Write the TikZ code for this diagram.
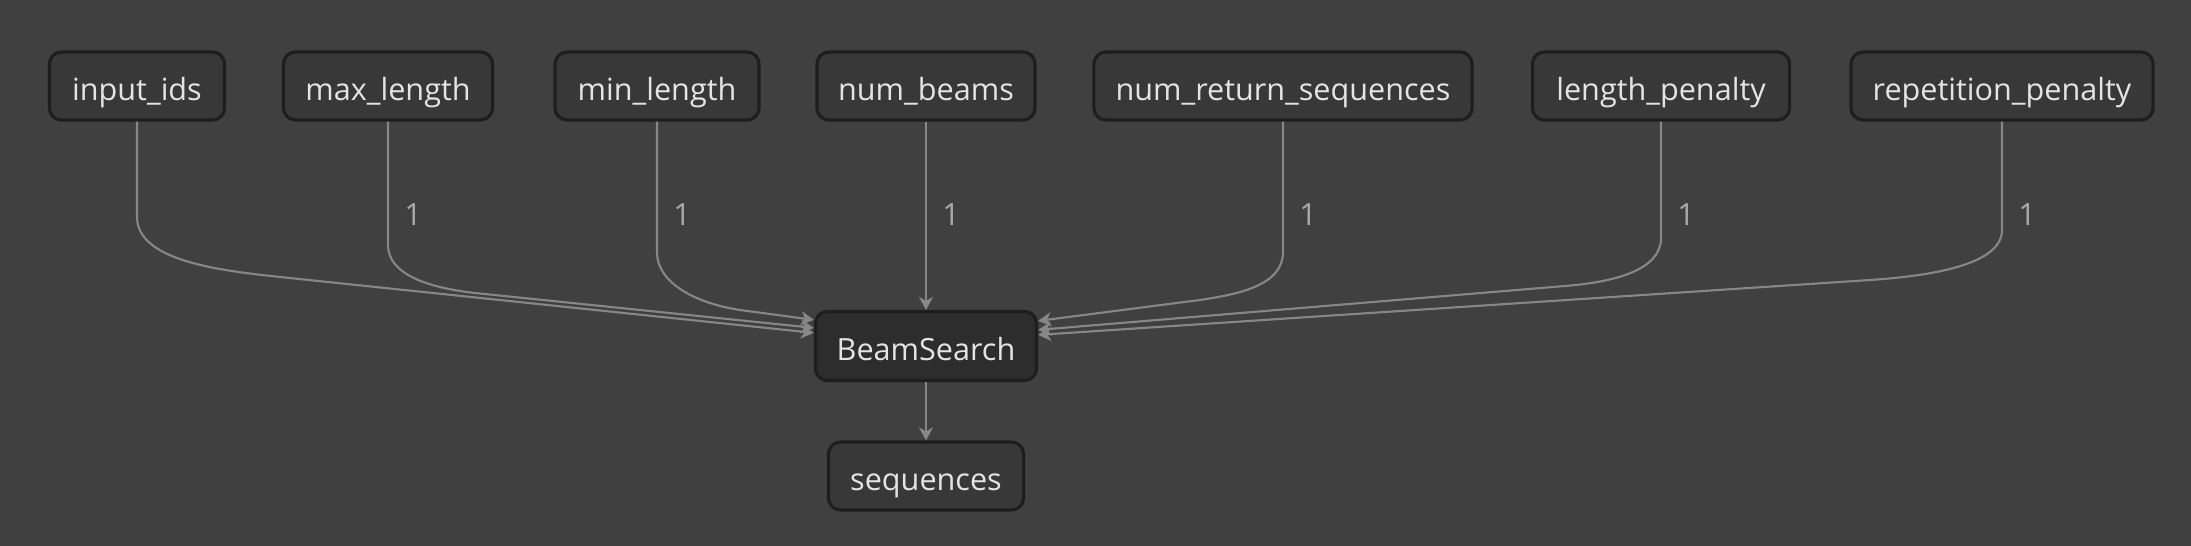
\documentclass[tikz,border=0pt]{standalone}
\usepackage{fontspec}
\setmainfont{Open Sans}
\usetikzlibrary{arrows.meta, calc}
\definecolor{bgcol}{RGB}{64,64,64}
\definecolor{boxcol}{RGB}{56,56,56}
\definecolor{opcol}{RGB}{45,45,45}
\definecolor{rimcol}{RGB}{30,30,30}
\definecolor{txtcol}{RGB}{228,228,228}
\definecolor{edgecol}{RGB}{135,135,135}
\definecolor{lblcol}{RGB}{170,170,170}
\begin{document}
\begin{tikzpicture}[
  x=0.01cm, y=0.01cm,
  io/.style={rectangle, draw=rimcol, line width=0.9pt, rounded corners=0.12cm, fill=boxcol, text=txtcol, minimum height=0.68cm, inner xsep=0pt, text height=0.3cm, text depth=0.01cm, font=\fontsize{8.7}{10}\selectfont},
  op/.style={io, fill=opcol, minimum height=0.69cm},
  edge/.style={draw=edgecol, line width=0.6pt, -{Stealth[length=0.13cm, width=0.14cm, inset=0.04cm]}},
  num/.style={text=lblcol, font=\fontsize{8.7}{10}\selectfont, inner sep=0pt}
]
\fill[bgcol] (0,0) rectangle (2191,-546);
\useasboundingbox (0,0) rectangle (2191,-546);

\node[io, minimum width=1.75cm] (inp) at (137,-86) {input\_ids};
\node[io, minimum width=2.09cm] (maxl) at (388,-86) {max\_length};
\node[io, minimum width=2.04cm] (minl) at (657,-86) {min\_length};
\node[io, minimum width=2.18cm] (beams) at (926,-86) {num\_beams};
\node[io, minimum width=3.78cm] (nret) at (1283,-86) {num\_return\_sequences};
\node[io, minimum width=2.57cm] (lpen) at (1661,-86) {length\_penalty};
\node[io, minimum width=3.02cm] (rpen) at (2002,-86) {repetition\_penalty};
\node[op, minimum width=2.21cm] (bs) at (926,-346) {BeamSearch};
\node[io, minimum width=1.95cm] (seq) at (926,-476) {sequences};

\node[num] (n1) at (413,-215) {1};
\node[num] (n2) at (682,-215) {1};
\node[num] (n3) at (951,-215) {1};
\node[num] (n4) at (1308,-215) {1};
\node[num] (n5) at (1686,-215) {1};
\node[num] (n6) at (2027,-215) {1};

\draw[edge] (inp.south) -- (137,-217) .. controls (137,-262) and (225,-271) .. (280,-277) -- ($(bs.north west)+(0,-23)$);
\draw[edge] (maxl.south) -- (388,-245) .. controls (388,-275) and (430,-288) .. (475,-293) -- ($(bs.north west)+(0,-18)$);
\draw[edge] (minl.south) -- (657,-252) .. controls (657,-285) and (700,-304) .. (740,-310) -- ($(bs.north west)+(0,-10)$);
\draw[edge] (beams) -- (bs);
\draw[edge] (nret.south) -- (1283,-252) .. controls (1283,-285) and (1240,-294) .. (1200,-300) -- ($(bs.north east)+(0,-11)$);
\draw[edge] (lpen.south) -- (1661,-238) .. controls (1661,-270) and (1615,-282) .. (1565,-286) -- ($(bs.north east)+(0,-20)$);
\draw[edge] (rpen.south) -- (2002,-230) .. controls (2002,-265) and (1930,-276) .. (1870,-280) -- ($(bs.north east)+(0,-25)$);
\draw[edge] (bs) -- (seq);
\end{tikzpicture}
\end{document}
